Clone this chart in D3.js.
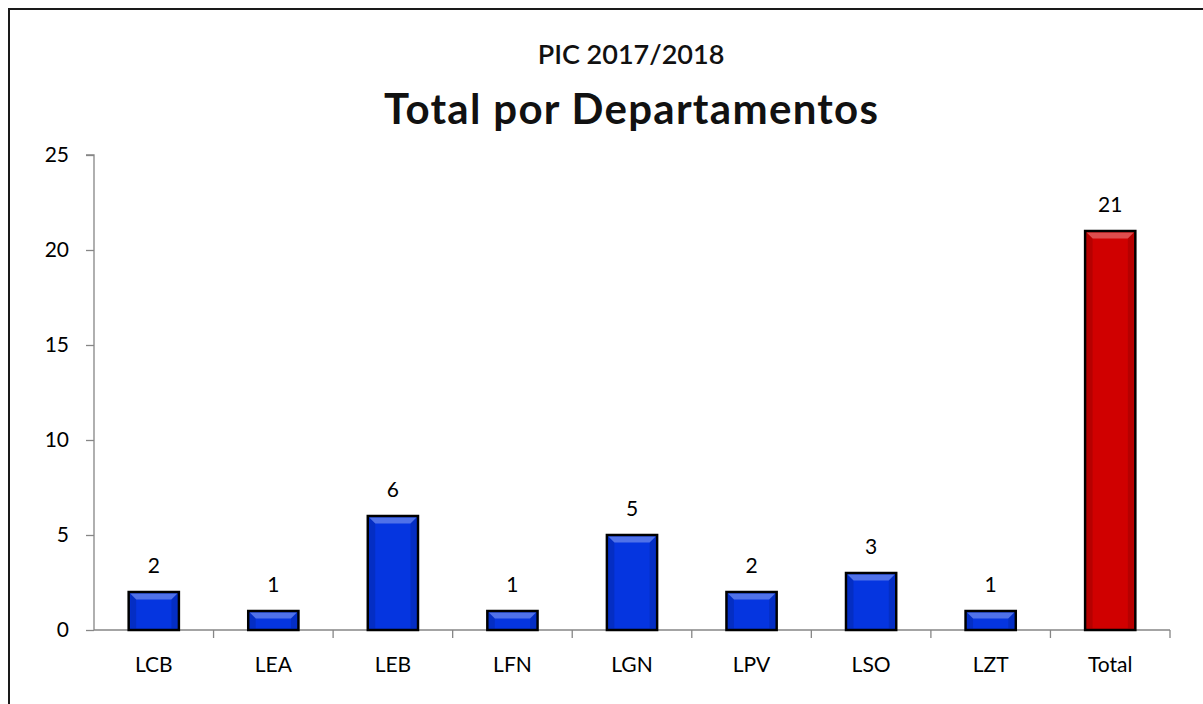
<!DOCTYPE html>
<html lang="en">
<head>
    <meta charset="UTF-8">
    <title>PIC 2017/2018 - Total por Departamentos</title>
    <script src="https://d3js.org/d3.v7.min.js"></script>
    <style>
        body { margin: 0; background: #fff; }
        svg { display: block; }
        .axis path, .axis line { stroke: #868686; stroke-width: 1.3px; }
        .axis text { font-family: Lato, "Open Sans", sans-serif; font-size: 21px; fill: #000; }
        .title { font-family: Lato, "Open Sans", sans-serif; fill: #111; text-anchor: middle; }
        .value { font-family: Lato, "Open Sans", sans-serif; font-size: 21px; fill: #000; text-anchor: middle; }
    </style>
</head>
<body>
<div id="chart"></div>
<script>
    const categories = ["LCB", "LEA", "LEB", "LFN", "LGN", "LPV", "LSO", "LZT", "Total"];
    const values = [2, 1, 6, 1, 5, 2, 3, 1, 21];
    const yTicks = [0, 5, 10, 15, 20, 25];

    const width = 1203, height = 704;
    const margin = { top: 155, right: 33, bottom: 74, left: 94 };

    const svg = d3.select("#chart").append("svg")
        .attr("width", width)
        .attr("height", height);

    // outer frame (only left and top are visible in the picture)
    svg.append("rect")
        .attr("x", 9).attr("y", 9)
        .attr("width", width + 20).attr("height", height + 20)
        .attr("fill", "#fff")
        .attr("stroke", "#1a1a1a")
        .attr("stroke-width", 2);

    const colors = { normal: "#0535e0", total: "#d00000" };

    const x = d3.scaleBand()
        .domain(categories)
        .range([margin.left, width - margin.right])
        .paddingInner(0.58)
        .paddingOuter(0.29);

    const y = d3.scaleLinear()
        .domain([0, 25])
        .range([height - margin.bottom, margin.top]);

    // titles
    svg.append("text").attr("class", "title")
        .attr("x", 631).attr("y", 64)
        .style("font-size", "27px").style("font-weight", 600)
        .text("PIC 2017/2018");
    svg.append("text").attr("class", "title")
        .attr("x", 631).attr("y", 124)
        .style("font-size", "42px").style("font-weight", 700)
        .attr("textLength", 494)
        .attr("lengthAdjust", "spacing")
        .text("Total por Departamentos");

    // y axis
    const yAxis = svg.append("g")
        .attr("class", "axis")
        .attr("transform", `translate(${margin.left},0)`)
        .call(d3.axisLeft(y).tickValues(yTicks).tickSize(8).tickPadding(17));
    yAxis.select(".domain").attr("d", `M-8,${y(25)}H0V${y(0)}`);

    // x axis with ticks between categories
    const xAxis = svg.append("g")
        .attr("class", "axis")
        .attr("transform", `translate(0,${y(0)})`)
        .call(d3.axisBottom(x).tickSize(0).tickPadding(27));
    xAxis.select(".domain").attr("d", `M${margin.left},0H${width - margin.right}`);
    const slot = (width - margin.right - margin.left) / categories.length;
    xAxis.selectAll(".sep")
        .data(d3.range(1, categories.length + 1))
        .enter().append("line")
        .attr("class", "sep")
        .attr("x1", i => margin.left + i * slot)
        .attr("x2", i => margin.left + i * slot)
        .attr("y1", 0).attr("y2", 8);

    // bars
    const bars = svg.append("g").selectAll("g")
        .data(categories.map((c, i) => ({ cat: c, value: values[i] })))
        .enter().append("g");

    const bw = x.bandwidth();
    const bev = 6;

    bars.append("rect")
        .attr("x", d => x(d.cat))
        .attr("y", d => y(d.value))
        .attr("width", bw)
        .attr("height", d => y(0) - y(d.value))
        .attr("fill", d => d.cat === "Total" ? colors.total : colors.normal)
        .attr("stroke", "#000")
        .attr("stroke-width", 2.5);

    // bevel: lighter top edge, darker sides
    bars.append("path")
        .attr("d", d => {
            const x0 = x(d.cat) + 1.5, x1 = x(d.cat) + bw - 1.5, y0 = y(d.value) + 1.5;
            return `M${x0},${y0}H${x1}L${x1 - bev},${y0 + bev}H${x0 + bev}Z`;
        })
        .attr("fill", "#fff").attr("opacity", 0.3);
    bars.append("path")
        .attr("d", d => {
            const x0 = x(d.cat) + 1.5, x1 = x(d.cat) + bw - 1.5, y0 = y(d.value) + 1.5, y1 = y(0) - 1.5;
            return `M${x0},${y0}L${x0 + bev},${y0 + bev}V${y1}H${x0}Z M${x1},${y0}L${x1 - bev},${y0 + bev}V${y1}H${x1}Z`;
        })
        .attr("fill", "#000").attr("opacity", 0.12);

    // value labels
    bars.append("text")
        .attr("class", "value")
        .attr("x", d => x(d.cat) + bw / 2)
        .attr("y", d => y(d.value) - 19)
        .text(d => d.value);
</script>
</body>
</html>
